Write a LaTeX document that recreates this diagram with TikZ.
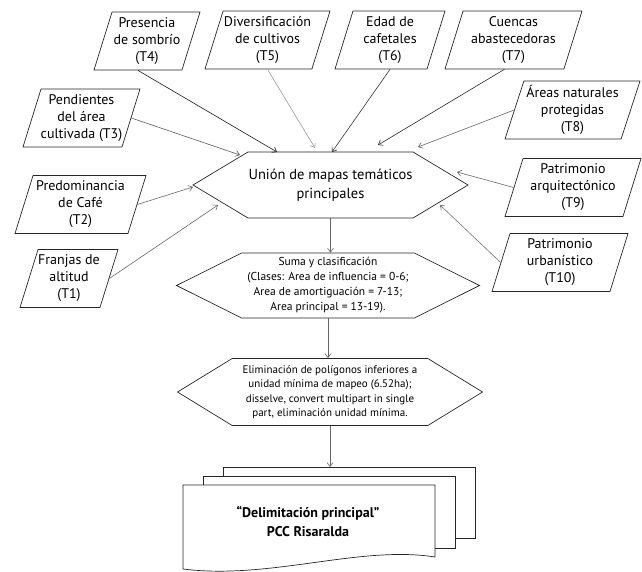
\documentclass[tikz,border=0pt]{standalone}
\usepackage{fontspec}
\setmainfont{PT Sans}
\usetikzlibrary{shapes}
\usetikzlibrary{shapes.geometric}
\usetikzlibrary{shapes.symbols}
\usetikzlibrary{arrows.meta}
\usetikzlibrary{calc}
\usetikzlibrary{positioning}

\tikzset{
  tema/.style={draw=black!85, line width=0.7pt, trapezium,
    trapezium left angle=69, trapezium right angle=111,
    trapezium stretches body, inner xsep=-8pt, inner ysep=0pt,
    minimum height=58pt, align=center,
    font=\fontsize{14}{17}\selectfont},
  proceso/.style={draw=black!85, line width=0.7pt, signal,
    signal to=east and west, align=center, inner ysep=0pt},
  hoja/.style={draw=black!85, line width=0.7pt},
  flecha/.style={-{Straight Barb[length=4pt,width=6pt]}, line width=0.6pt}
}
\newcommand\tema[4]{
  \node[tema, minimum width=#3] (#1) at (#2) {#4};
}

\begin{document}
\begin{tikzpicture}[x=1pt,y=-1pt]
  %
  \useasboundingbox (0,0) rectangle (642,571);

  \tema{T1}{69,278.5}{98}{Franjas de\\altitud\\(T1)}
  \tema{T2}{80.5,204.5}{131}{Predominancia\\de Café\\(T2)}
  \tema{T3}{81.5,118}{117}{Pendientes\\del área\\cultivada (T3)}
  \tema{T4}{147,41}{106}{Presencia\\de sombrío\\(T4)}
  \tema{T5}{267.5,40}{125}{Diversificación\\de cultivos\\(T5)}
  \tema{T6}{390,40}{110}{Edad de\\cafetales\\(T6)}
  \tema{T7}{513.5,40}{137}{Cuencas\\abastecedoras\\(T7)}
  \tema{T8}{572.5,110}{135}{Áreas naturales\\protegidas\\(T8)}
  \tema{T9}{573,187.5}{136}{Patrimonio\\arquitectónico\\(T9)}
  \tema{T10}{560,262.5}{136}{Patrimonio\\urbanístico\\(T10)}

  \node[proceso, signal pointer angle=62, minimum width=275pt,
    minimum height=66pt, inner xsep=0pt,
    font=\fontsize{14.5}{19}\selectfont] (union) at (330.5,185)
    {Unión de mapas temáticos\\principales};

  \node[proceso, signal pointer angle=53, minimum width=303pt,
    minimum height=65pt, inner xsep=-6pt,
    font=\fontsize{11.5}{15}\selectfont] (suma) at (328,285.5)
    {Suma y clasificación\\(Clases: Area de influencia = 0-6;\\
     Area de amortiguación = 7-13;\\Area principal = 13-19).};

  \node[proceso, signal pointer angle=63, minimum width=305pt,
    minimum height=67pt, inner xsep=2pt,
    font=\fontsize{11}{14.5}\selectfont] (elim) at (330,392)
    {Eliminación de polígonos inferiores a\\unidad mínima de mapeo (6.52ha);\\
     disselve, convert multipart in single\\part, eliminación unidad mínima.};

  % documentos
  \draw[hoja] (223,476) -- (223,467) -- (475,467) -- (475,538) -- (455,538);
  \draw[hoja] (203,485) -- (203,476) -- (455,476) -- (455,548) -- (435,548);
  \draw[hoja] (183,485) -- (435,485) -- (435,557)
    .. controls (360,545) and (270,580) .. (183,569) -- cycle;
  \node[align=center, font=\bfseries\fontsize{14}{19}\selectfont]
    (delim) at (308,521) {“Delimitación principal”\\PCC Risaralda};
  \coordinate (pila) at (327,467);

  \foreach \i/\x/\y in {1/218/205,2/193/187,3/240/155,4/277/152,5/315/148,
                        6/332/152,7/378/145,8/418/147,9/457/172,10/440/205}
    \coordinate (u\i) at (\x,\y);

  \foreach \i/\ancla/\tono in {1/right side/60,2/right side/60,3/right side/65,
      4/bottom side/90,5/south/40,6/south/80,7/bottom side/85,
      8/left side/60,9/left side/60,10/left side/55}
    \draw[flecha, black!\tono] (T\i.\ancla) -- (u\i);

  \draw[flecha, black!60] (union.south) -- (union.south |- suma.north);
  \draw[flecha, black!60] (suma.south) -- (suma.south |- elim.north);
  \draw[flecha, black!60] (elim.south) -- (elim.south |- pila);

\end{tikzpicture}
\end{document}
